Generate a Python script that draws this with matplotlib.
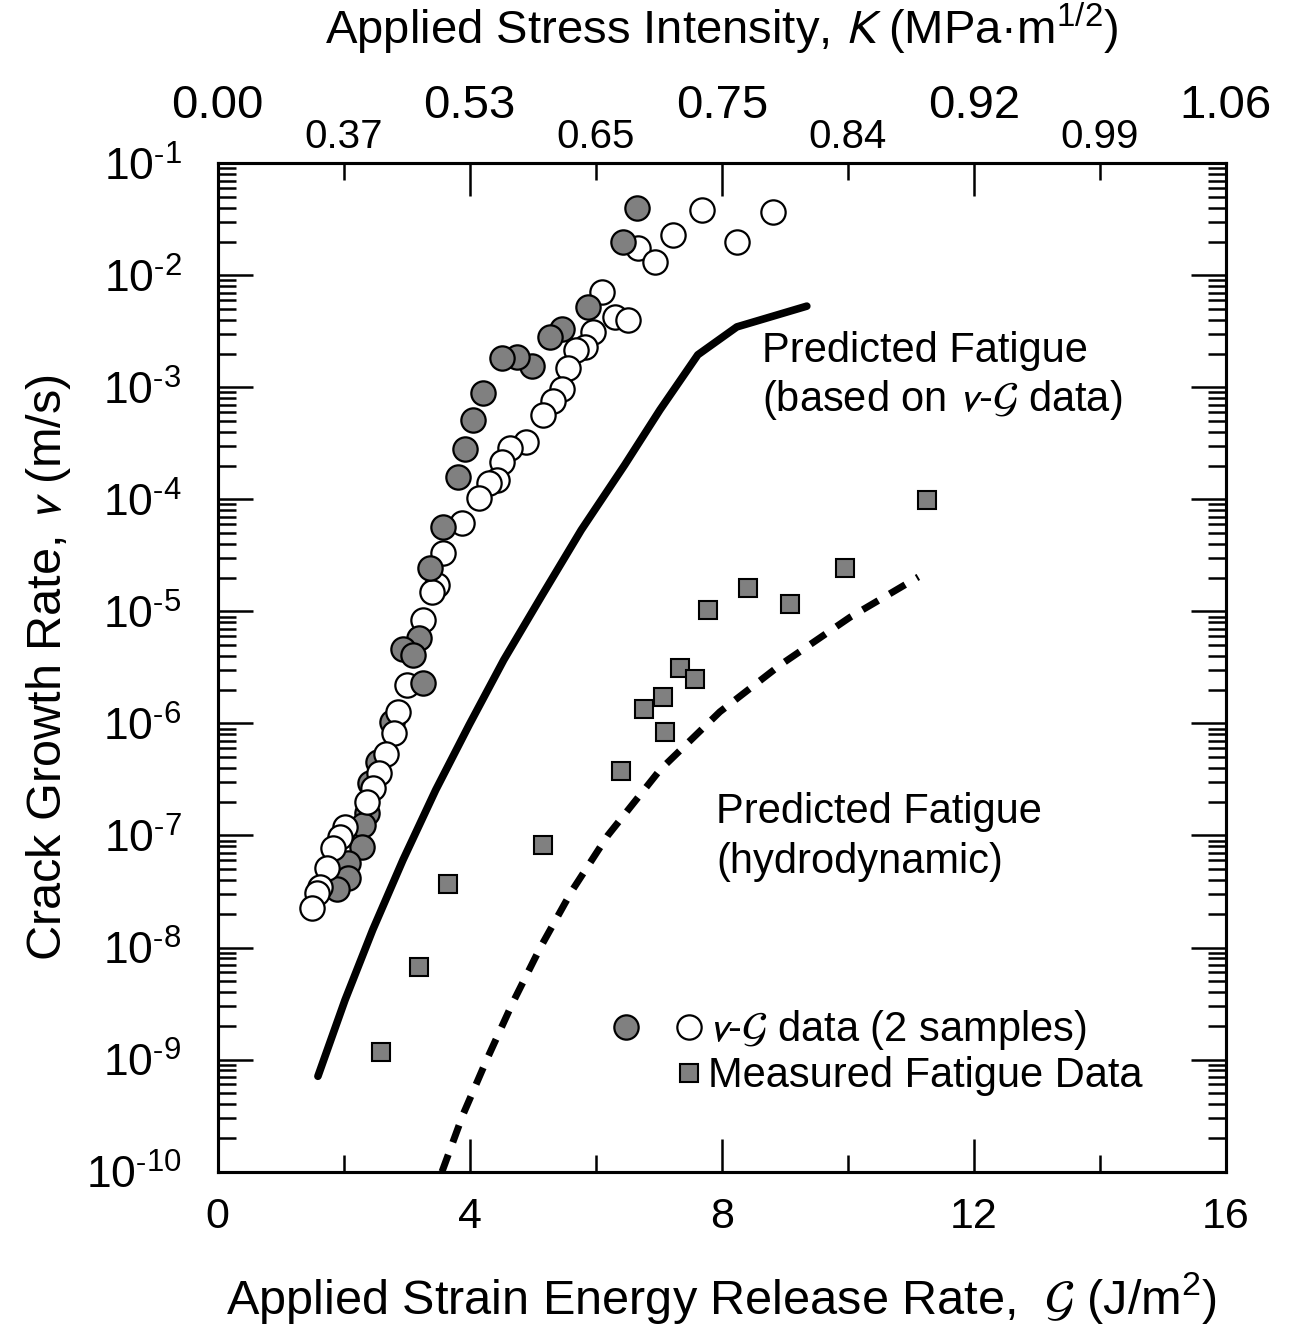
import numpy as np
import matplotlib
matplotlib.use("Agg")
import matplotlib.pyplot as plt
import matplotlib.ticker as ticker
from matplotlib.legend_handler import HandlerTuple

plt.rcParams['font.family'] = ['Liberation Sans', 'DejaVu Sans']
plt.rcParams['mathtext.fontset'] = 'stixsans'

# v-G data, sample 1 (grey circles)
G_grey = [6.66, 6.43, 5.88, 5.47, 5.28, 4.99, 4.75, 4.51, 4.21, 4.05, 3.93, 3.81,
          3.57, 3.37, 3.20, 2.94, 3.10, 3.26, 2.76, 2.55, 2.42, 2.37, 2.31, 2.29,
          2.07, 2.07, 1.89]
v_grey = [4.0e-2, 2.0e-2, 5.2e-3, 3.3e-3, 2.8e-3, 1.55e-3, 1.87e-3, 1.83e-3, 8.9e-4,
          5.1e-4, 2.8e-4, 1.58e-4, 5.7e-5, 2.44e-5, 5.8e-6, 4.6e-6, 4.1e-6, 2.3e-6,
          1.03e-6, 4.5e-7, 2.94e-7, 1.59e-7, 1.24e-7, 7.9e-8, 5.7e-8, 4.2e-8, 3.3e-8]

# v-G data, sample 2 (open circles)
G_open = [7.69, 8.81, 8.24, 7.23, 6.67, 6.94, 6.10, 6.31, 6.51, 5.96, 5.83, 5.69,
          5.56, 5.46, 5.32, 5.16, 4.89, 4.64, 4.51, 4.43, 4.31, 4.15, 3.88, 3.58,
          3.48, 3.40, 3.26, 3.01, 2.86, 2.80, 2.67, 2.56, 2.47, 2.37, 2.02, 1.94,
          1.83, 1.73, 1.62, 1.58, 1.50]
v_open = [3.83e-2, 3.67e-2, 1.99e-2, 2.29e-2, 1.75e-2, 1.32e-2, 7.1e-3, 4.2e-3, 4.0e-3,
          3.1e-3, 2.3e-3, 2.16e-3, 1.49e-3, 9.7e-4, 7.6e-4, 5.7e-4, 3.25e-4, 2.87e-4,
          2.15e-4, 1.49e-4, 1.40e-4, 1.03e-4, 6.1e-5, 3.3e-5, 1.72e-5, 1.49e-5, 8.4e-6,
          2.2e-6, 1.26e-6, 8.2e-7, 5.3e-7, 3.6e-7, 2.64e-7, 1.98e-7, 1.19e-7, 9.7e-8,
          7.7e-8, 5.1e-8, 3.45e-8, 3.05e-8, 2.24e-8]

# measured fatigue data (squares)
G_fat = [11.26, 9.96, 8.42, 9.08, 7.78, 7.34, 7.58, 7.07, 6.77, 7.10, 6.40, 5.16,
         3.66, 3.20, 2.59]
v_fat = [9.9e-5, 2.44e-5, 1.62e-5, 1.17e-5, 1.03e-5, 3.1e-6, 2.5e-6, 1.72e-6, 1.35e-6,
         8.4e-7, 3.8e-7, 8.2e-8, 3.7e-8, 6.7e-9, 1.17e-9]

# predicted fatigue, based on v-G data (solid)
G_pred = [1.59, 2.02, 2.46, 2.94, 3.46, 3.99, 4.54, 5.15, 5.77, 6.46, 7.02, 7.62,
          8.24, 9.35]
v_pred = [7.1e-10, 3.4e-9, 1.44e-8, 6.05e-8, 2.55e-7, 9.7e-7, 3.69e-6, 1.40e-5,
          5.33e-5, 2.03e-4, 6.3e-4, 1.95e-3, 3.46e-3, 5.3e-3]

# predicted fatigue, hydrodynamic (dashed)
G_hyd = [3.56, 3.89, 4.27, 4.68, 5.12, 5.62, 6.19, 7.02, 7.97, 8.93, 10.04, 11.12]
v_hyd = [1.0e-10, 3.2e-10, 1.0e-9, 3.2e-9, 1.0e-8, 3.2e-8, 1.0e-7, 3.85e-7, 1.27e-6,
         3.33e-6, 8.9e-6, 2.03e-5]

# top axis: stress intensity at G ticks
top_major_pos = [0, 4, 8, 12, 16]
top_major_lab = ['0.00', '0.53', '0.75', '0.92', '1.06']
top_minor_pos = [2, 6, 10, 14]
top_minor_lab = ['0.37', '0.65', '0.84', '0.99']

grey = '#808080'

fig = plt.figure(figsize=(12.9, 13.29), dpi=100)
ax = fig.add_axes([0.1688, 0.1184, 0.7814, 0.7588])
ax.set_yscale('log')
ax.set_xlim(0, 16)
ax.set_ylim(1e-10, 1e-1)

G_open = np.array(G_open)
v_open = np.array(v_open)
hi = v_open > 1.5e-6

circ = dict(ls='none', marker='o', ms=17.5, mec='black', mew=1.6)
ax.plot(G_open[hi], v_open[hi], mfc='white', zorder=3, **circ)
ax.plot(G_grey, v_grey, mfc=grey, zorder=4, **circ)
ax.plot(G_open[~hi], v_open[~hi], mfc='white', zorder=5, **circ)

ax.plot(G_fat, v_fat, ls='none', marker='s', ms=13.5, mfc=grey, mec='black',
        mew=1.5, zorder=4)

ax.plot(G_pred, v_pred, color='black', lw=5.5, solid_capstyle='round', zorder=2)
ax.plot(G_hyd, v_hyd, color='black', lw=5, dashes=(2.6, 1.9),
        dash_capstyle='butt', zorder=2)

# annotations
ax.text(8.64, 1.69e-3, 'Predicted Fatigue', fontsize=30, ha='left', va='baseline')
ax.text(8.64, 6.15e-4, '(based on $v$-$\\mathcal{G}$ data)', fontsize=30,
        ha='left', va='baseline')
ax.text(7.91, 1.30e-7, 'Predicted Fatigue', fontsize=30, ha='left', va='baseline')
ax.text(7.91, 4.65e-8, '(hydrodynamic)', fontsize=30, ha='left', va='baseline')

# legend
h_grey = plt.Line2D([], [], ls='none', marker='o', ms=17.5, mfc=grey, mec='black', mew=1.6)
h_open = plt.Line2D([], [], ls='none', marker='o', ms=17.5, mfc='white', mec='black', mew=1.6)
h_blank = plt.Line2D([], [], ls='none')
h_sq = plt.Line2D([], [], ls='none', marker='s', ms=13.5, mfc=grey, mec='black', mew=1.5)
ax.legend([(h_grey, h_open), (h_blank, h_sq)],
          ['$v$-$\\mathcal{G}$ data (2 samples)', 'Measured Fatigue Data'],
          handler_map={tuple: HandlerTuple(ndivide=None, pad=0.9)},
          loc='upper left', bbox_to_anchor=(0.393, 0.162), frameon=False,
          fontsize=30, handlelength=2.1, handletextpad=0.15, labelspacing=0.1,
          borderpad=0, borderaxespad=0, numpoints=1)

# axes styling
for s in ax.spines.values():
    s.set_linewidth(2.2)

ax.xaxis.set_major_locator(ticker.FixedLocator([0, 4, 8, 12, 16]))
ax.xaxis.set_minor_locator(ticker.FixedLocator([2, 6, 10, 14]))
ax.xaxis.set_major_formatter(ticker.FuncFormatter(lambda x, p: f'{x:.0f}'))
ax.yaxis.set_major_locator(ticker.LogLocator(base=10, numticks=20))
ax.yaxis.set_minor_locator(ticker.LogLocator(base=10, subs=np.arange(2, 10), numticks=20))
ax.yaxis.set_major_formatter(ticker.FuncFormatter(
    lambda y, p: '$\\mathregular{10^{\\text{-}%d}}$' % abs(int(round(np.log10(y))))))
ax.yaxis.set_minor_formatter(ticker.NullFormatter())
ax.tick_params(which='both', direction='in', left=True, right=True, width=1.8)
ax.tick_params(axis='y', which='major', length=25, pad=26, labelsize=32)
ax.tick_params(axis='y', which='minor', length=13)
ax.tick_params(axis='x', which='major', length=24, pad=18, labelsize=31)
ax.tick_params(axis='x', which='minor', length=12)

ax.set_xlabel('Applied Strain Energy Release Rate,  $\\mathcal{G}$ (J/$\\mathregular{m^2}$)',
              fontsize=35, labelpad=24)
ax.set_ylabel('Crack Growth Rate, $v$ (m/s)', fontsize=35, labelpad=9)

# top axis
ax_top = ax.twiny()
ax_top.set_xlim(0, 16)
ax_top.set_xticks(top_major_pos)
ax_top.set_xticklabels(top_major_lab)
ax_top.set_xticks(top_minor_pos, minor=True)
ax_top.set_xticklabels(top_minor_lab, minor=True)
ax_top.tick_params(which='both', direction='in', width=1.8)
ax_top.tick_params(which='major', length=24, pad=25, labelsize=34)
ax_top.tick_params(which='minor', length=12, pad=5, labelsize=29)
for s in ax_top.spines.values():
    s.set_linewidth(2.2)
ax_top.set_xlabel('Applied Stress Intensity, $K$ (MPa·$\\mathregular{m^{1/2}}$)',
                  fontsize=34, labelpad=29)

fig.savefig('out.png', dpi=100)
